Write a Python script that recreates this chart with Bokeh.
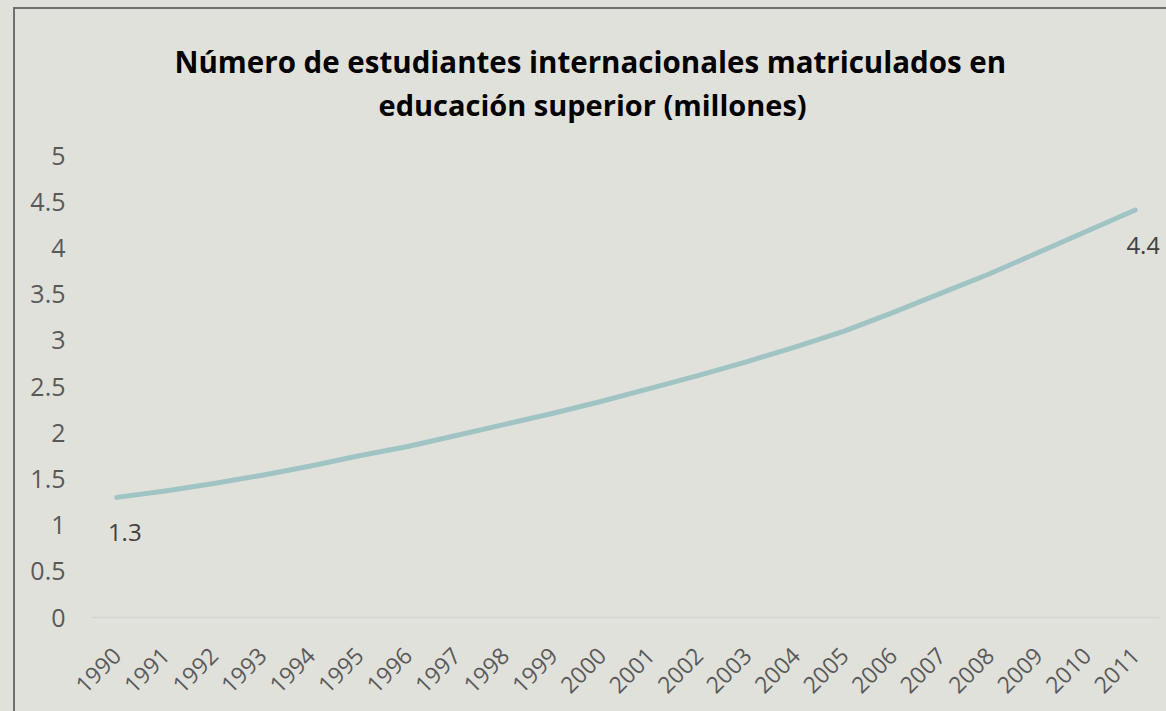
import math
from bokeh.plotting import figure
from bokeh.models import Range1d, FixedTicker, Label, Title
from bokeh.layouts import column
from bokeh.embed import file_html
from bokeh.resources import INLINE

title_lines = ["Número de estudiantes internacionales matriculados en",
               "educación superior (millones)"]
years = [1990, 1991, 1992, 1993, 1994, 1995, 1996, 1997, 1998, 1999, 2000,
         2001, 2002, 2003, 2004, 2005, 2006, 2007, 2008, 2009, 2010, 2011]
students = [1.30, 1.37, 1.45, 1.54, 1.64, 1.75, 1.85, 1.97, 2.09, 2.21, 2.34,
            2.48, 2.62, 2.77, 2.93, 3.10, 3.30, 3.51, 3.72, 3.95, 4.18, 4.41]
y_ticks = [0, 0.5, 1, 1.5, 2, 2.5, 3, 3.5, 4, 4.5, 5]
y_tick_labels = {0: "0", 0.5: "0.5", 1: "1", 1.5: "1.5", 2: "2", 2.5: "2.5",
                 3: "3", 3.5: "3.5", 4: "4", 4.5: "4.5", 5: "5"}
labelled = {1990: "1.3", 2011: "4.4"}

BG = "#E1E1DC"
LINE = "#A0C4C3"
FONT = "Open Sans"

W, H = 1166, 711
BW = 2                          # chart border width
MX, MY = 13, 7                  # border position in the window
OX, OY = MX + BW, MY + BW       # figure origin in the window
PW, PH = W - OX, H - OY
FL, FR, FT, FB = 92 - OX, 1159 - OX, 154 - OY, 617 - OY   # frame edges (figure px)

p = figure(width=PW, height=PH, output_backend="svg", toolbar_location=None,
           x_range=Range1d(years[0] - 0.5, years[-1] + 0.5),
           y_range=Range1d(0, 5))
p.min_border_left = FL
p.min_border_right = PW - FR
p.min_border_top = 0
p.min_border_bottom = PH - FB
p.background_fill_color = BG
p.border_fill_color = BG
p.outline_line_color = None
p.xgrid.visible = False
p.ygrid.visible = False

# axes
p.xaxis.ticker = FixedTicker(ticks=years)
p.xaxis.major_label_orientation = math.pi / 4
p.xaxis.major_tick_line_color = None
p.xaxis.minor_tick_line_color = None
p.xaxis.axis_line_color = "#D4D4CF"
p.xaxis.axis_line_width = 1.5
p.xaxis.major_label_text_font = FONT
p.xaxis.major_label_text_font_size = "23px"
p.xaxis.major_label_text_color = "#595959"
p.xaxis.major_label_standoff = 28

p.yaxis.ticker = FixedTicker(ticks=y_ticks)
p.yaxis.major_label_overrides = y_tick_labels
p.yaxis.major_tick_line_color = None
p.yaxis.minor_tick_line_color = None
p.yaxis.axis_line_color = None
p.yaxis.major_label_text_font = FONT
p.yaxis.major_label_text_font_size = "25px"
p.yaxis.major_label_text_color = "#595959"
p.yaxis.major_label_standoff = 21

p.line(years, students, line_color=LINE, line_width=5, line_cap="round", line_join="round")

for yr, txt in labelled.items():
    val = students[years.index(yr)]
    p.add_layout(Label(x=yr, y=val, text=txt, x_offset=8, y_offset=-35,
                       text_align="center", text_baseline="middle",
                       text_font=FONT, text_font_size="24px", text_color="#404040"))

# title panels, stacked outward from the plot area (blank spacers set the gaps)
def spacer(standoff):
    return Title(text="\u00a0", text_font_size="2px", standoff=standoff,
                 text_color=BG)

p.add_layout(spacer(27), "above")
p.add_layout(Title(text=title_lines[1], align="left", offset=286, standoff=2,
                   text_font=FONT, text_font_size="29px", text_font_style="bold",
                   text_color="#000000"), "above")
p.add_layout(Title(text=title_lines[0], align="left", offset=82, standoff=0,
                   text_font=FONT, text_font_size="29.5px", text_font_style="bold",
                   text_color="#000000"), "above")
p.add_layout(spacer(25), "above")

framed = column(p, margin=(MY, 0, 0, MX),
                styles={"border-left": f"{BW}px solid #707070",
                        "border-top": f"{BW}px solid #707070"})
layout = column(framed, styles={"background-color": BG})
open("out.html", "w").write(file_html(layout, INLINE))
